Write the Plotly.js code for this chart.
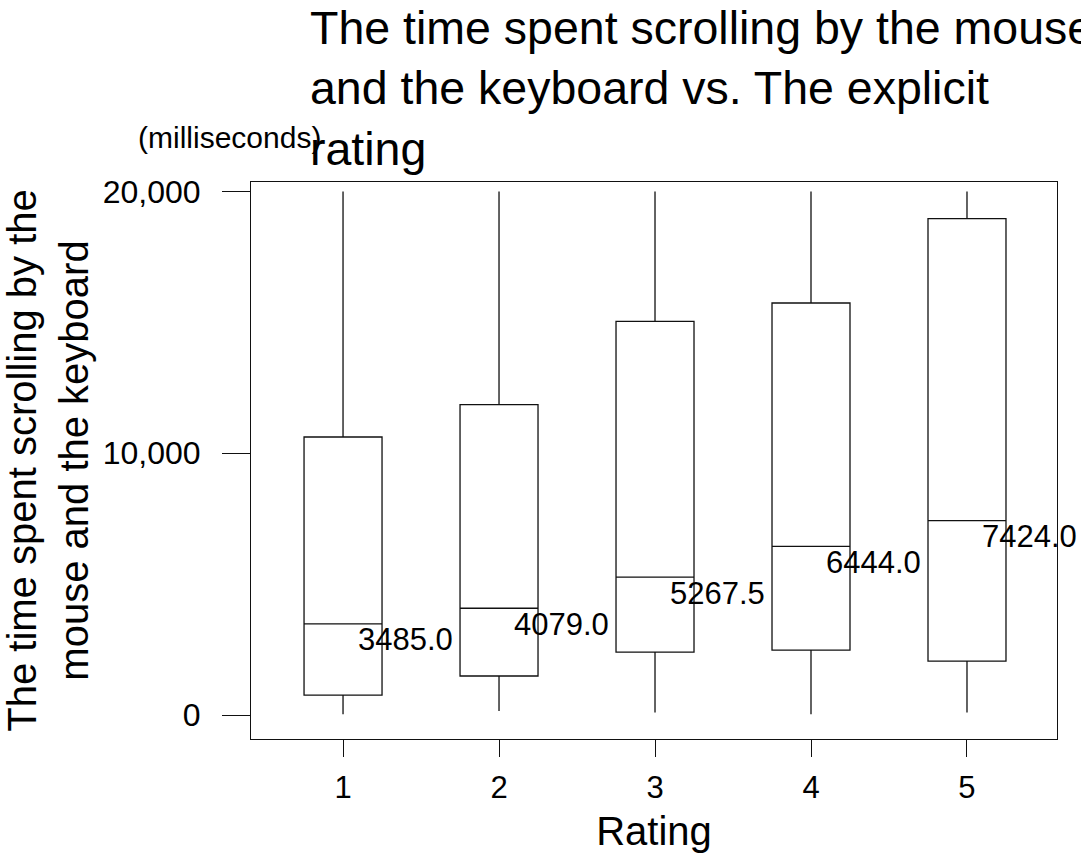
<!DOCTYPE html>
<html>
<head>
<meta charset="utf-8">
<script src="https://cdn.plot.ly/plotly-3.0.1.min.js"></script>
<style>html,body{margin:0;padding:0;background:#fff;}#chart{width:1081px;height:854px;}</style>
</head>
<body>
<div id="chart"></div>
<script>
// Data
const ratings = [1, 2, 3, 4, 5];
const ratingLabels = ["1", "2", "3", "4", "5"];
const lowerWhisker = [30, 150, 100, 30, 100];
const q1Values = [760, 1490, 2400, 2480, 2060];
const medianValues = [3485.0, 4079.0, 5267.5, 6444.0, 7424.0];
const q3Values = [10620, 11860, 15040, 15740, 18960];
const upperWhisker = [20000, 20000, 20000, 20000, 20000];
const yTickValues = [0, 10000, 20000];
const yTickLabels = ["0", "10,000", "20,000"];

const FONT = "Liberation Sans, Arial, sans-serif";

const trace = {
  type: "box",
  x: ratings,
  q1: q1Values,
  median: medianValues,
  q3: q3Values,
  lowerfence: lowerWhisker,
  upperfence: upperWhisker,
  width: 0.5,
  whiskerwidth: 0,
  boxpoints: false,
  fillcolor: "rgba(0,0,0,0)",
  line: {color: "#111", width: 1.3},
  hoverinfo: "skip",
  showlegend: false
};

const medianAnnotations = ratings.map((r, i) => ({
  x: r, y: medianValues[i], xref: "x", yref: "y",
  text: medianValues[i].toFixed(1),
  showarrow: false, xanchor: "left", yanchor: "middle",
  xshift: 13, yshift: -16,
  font: {family: FONT, size: 31, color: "#000"}
}));

const layout = {
  width: 1081, height: 854,
  paper_bgcolor: "#fff", plot_bgcolor: "#fff",
  margin: {l: 251, r: 24, t: 182, b: 115, pad: 0},
  font: {family: FONT, color: "#000"},
  title: {
    text: "The time spent scrolling by the mouse<br>and the keyboard vs. The explicit<br>rating",
    xref: "container", yref: "container",
    x: 310 / 1081, xanchor: "left",
    y: 1 - 44 / 854, yanchor: "top",
    font: {family: FONT, size: 46.5, color: "#000"}
  },
  xaxis: {
    range: [0.41, 5.577],
    tickvals: ratings, ticktext: ratingLabels,
    ticks: "outside", ticklen: 17, tickwidth: 1, tickcolor: "#111",
    ticklabelstandoff: 4,
    showline: true, linecolor: "#111", linewidth: 1, mirror: true,
    showgrid: false, zeroline: false,
    tickfont: {family: FONT, size: 31, color: "#000"},
    title: {text: "Rating", font: {family: FONT, size: 40, color: "#000"}, standoff: 12},
    automargin: false
  },
  yaxis: {
    range: [-917, 20363],
    tickvals: yTickValues, ticktext: yTickLabels,
    ticks: "outside", ticklen: 28, tickwidth: 1, tickcolor: "#111",
    ticklabelstandoff: 15,
    showline: true, linecolor: "#111", linewidth: 1, mirror: true,
    showgrid: false, zeroline: false,
    tickfont: {family: FONT, size: 32, color: "#000"},
    title: {text: "The time spent scrolling by the<br>mouse and the keyboard", font: {family: FONT, size: 40, color: "#000"}, standoff: 8},
    automargin: false
  },
  annotations: medianAnnotations.concat([{
    xref: "paper", yref: "paper",
    x: (136 - 251) / 806, y: (739 - 137) / 557,
    xanchor: "left", yanchor: "middle",
    text: "(milliseconds)", showarrow: false,
    font: {family: FONT, size: 30, color: "#000"}
  }])
};

Plotly.newPlot("chart", [trace], layout, {displayModeBar: false, staticPlot: true});
</script>
</body>
</html>
